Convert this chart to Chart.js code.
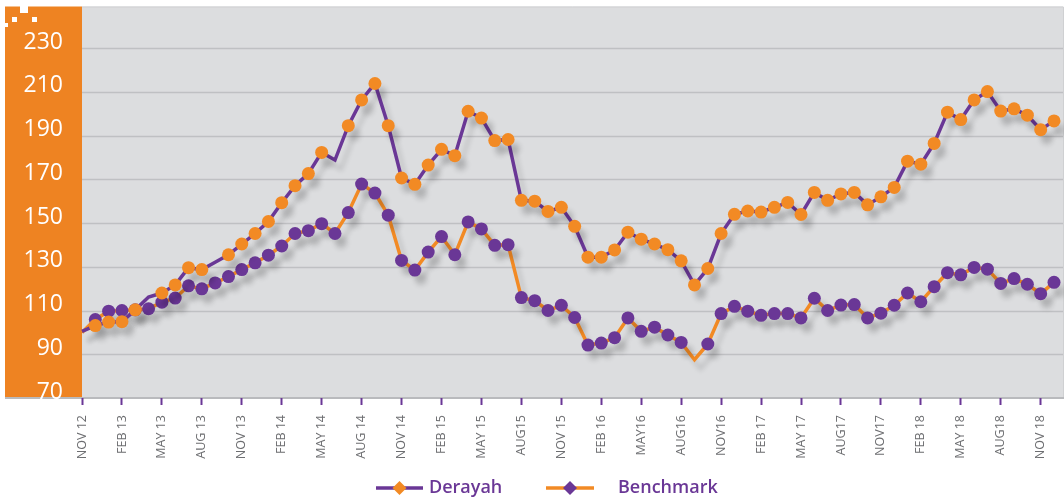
<!DOCTYPE html>
<html>
<head>
<meta charset="utf-8">
<script src="https://cdn.jsdelivr.net/npm/chart.js@4"></script>
<style>
  html, body { margin: 0; padding: 0; background: #fff; }
  #wrap { width: 1064px; height: 499px; }
</style>
</head>
<body>
<div id="wrap"><canvas id="perfChart" width="1064" height="499"></canvas></div>
<script>
// Monthly categories, Nov 2012 - Dec 2018
const months = [
    'NOV 12', 'DEC 12',
    'JAN 13', 'FEB 13', 'MAR 13', 'APR 13', 'MAY 13', 'JUN 13', 'JUL 13', 'AUG 13', 'SEP 13', 'OCT 13', 'NOV 13', 'DEC 13',
    'JAN 14', 'FEB 14', 'MAR 14', 'APR 14', 'MAY 14', 'JUN 14', 'JUL 14', 'AUG 14', 'SEP 14', 'OCT 14', 'NOV 14', 'DEC 14',
    'JAN 15', 'FEB 15', 'MAR 15', 'APR 15', 'MAY 15', 'JUN 15', 'JUL 15', 'AUG 15', 'SEP 15', 'OCT 15', 'NOV 15', 'DEC 15',
    'JAN 16', 'FEB 16', 'MAR 16', 'APR 16', 'MAY 16', 'JUN 16', 'JUL 16', 'AUG 16', 'SEP 16', 'OCT 16', 'NOV 16', 'DEC 16',
    'JAN 17', 'FEB 17', 'MAR 17', 'APR 17', 'MAY 17', 'JUN 17', 'JUL 17', 'AUG 17', 'SEP 17', 'OCT 17', 'NOV 17', 'DEC 17',
    'JAN 18', 'FEB 18', 'MAR 18', 'APR 18', 'MAY 18', 'JUN 18', 'JUL 18', 'AUG 18', 'SEP 18', 'OCT 18', 'NOV 18', 'DEC 18'
];

// Quarterly labels shown under the axis
const xTickLabels = [
    'NOV 12', 'FEB 13', 'MAY 13', 'AUG 13', 'NOV 13', 'FEB 14', 'MAY 14', 'AUG 14', 'NOV 14',
    'FEB 15', 'MAY 15', 'AUG15', 'NOV 15', 'FEB 16', 'MAY16', 'AUG16', 'NOV16', 'FEB 17',
    'MAY 17', 'AUG17', 'NOV17', 'FEB 18', 'MAY 18', 'AUG18', 'NOV 18'
];

const yTicks = [70, 90, 110, 130, 150, 170, 190, 210, 230];

const derayah = [
    100.5, 103.1, 104.7, 104.9, 110.3, 116.2, 118.0, 121.7, 129.6, 128.7,
    132.1, 135.5, 140.4, 145.2, 150.7, 159.3, 167.1, 172.6, 182.3, 178.8,
    194.5, 206.3, 213.8, 194.5, 170.6, 167.7, 176.5, 183.7, 180.8, 201.1,
    198.0, 187.7, 188.2, 160.4, 160.0, 155.3, 157.2, 148.5, 134.4, 134.4,
    137.7, 145.8, 142.6, 140.4, 137.8, 132.7, 121.7, 129.2, 145.2, 154.0,
    155.5, 155.0, 157.2, 159.4, 153.9, 164.0, 160.4, 163.3, 164.0, 158.3,
    162.0, 166.3, 178.3, 176.9, 186.4, 200.7, 197.3, 206.3, 210.1, 201.2,
    202.2, 199.3, 192.7, 196.7
];

const benchmark = [
    100.0, 105.9, 109.7, 110.0, 110.3, 110.8, 113.8, 115.7, 121.3, 119.9,
    122.6, 125.5, 128.7, 131.8, 135.3, 139.5, 145.2, 146.5, 149.7, 145.2,
    154.8, 167.8, 163.7, 153.6, 132.9, 128.5, 136.7, 143.8, 135.5, 150.5,
    147.3, 139.8, 140.1, 115.9, 114.5, 110.0, 112.4, 106.8, 94.2, 95.1,
    97.6, 106.6, 100.5, 102.4, 98.8, 95.4, 87.5, 94.7, 108.6, 111.9,
    109.7, 107.8, 108.6, 108.6, 106.6, 115.6, 110.0, 112.5, 112.7, 106.6,
    108.8, 112.4, 118.0, 114.0, 120.9, 127.3, 126.3, 129.7, 128.9, 122.4,
    124.6, 122.0, 117.7, 122.9
];

// months drawn without a marker in the original
const derayahNoMarker = [0, 5, 10, 19];
const benchmarkNoMarker = [0, 46];

const PURPLE = '#6a3796';
const ORANGE = '#f28a24';
const PANEL_ORANGE = '#ee8322';
const PLOT_GRAY = '#dcdddf';
const FONT = '"Open Sans", "Noto Sans", sans-serif';

// gray plot area, orange axis panel, grid lines
const chartBackground = {
    id: 'chartBackground',
    beforeDraw(chart) {
        const { ctx, chartArea: a, scales: { y } } = chart;
        const right = chart.width - 1;
        ctx.save();
        ctx.fillStyle = PLOT_GRAY;
        ctx.fillRect(a.left, a.top, right - a.left, a.bottom - a.top);
        ctx.fillStyle = PANEL_ORANGE;
        ctx.fillRect(5, a.top, a.left - 5, a.bottom - a.top);

        ctx.strokeStyle = '#bfc0c3';
        ctx.lineWidth = 1.5;
        yTicks.slice(1).forEach(v => {
            const py = Math.round(y.getPixelForValue(v)) + 0.5;
            ctx.beginPath();
            ctx.moveTo(a.left, py);
            ctx.lineTo(right, py);
            ctx.stroke();
        });
        // top edge + right edge
        ctx.strokeStyle = '#cfd0d2';
        ctx.lineWidth = 1;
        ctx.beginPath();
        ctx.moveTo(a.left, a.top + 0.5);
        ctx.lineTo(right + 0.5, a.top + 0.5);
        ctx.lineTo(right + 0.5, a.bottom);
        ctx.stroke();
        // bottom axis line
        ctx.strokeStyle = '#b9babd';
        ctx.lineWidth = 2;
        ctx.beginPath();
        ctx.moveTo(5, a.bottom);
        ctx.lineTo(right + 1, a.bottom);
        ctx.stroke();

        // little white squares in the panel corner
        ctx.fillStyle = '#ffffff';
        ctx.fillRect(20, 6, 8, 7);
        ctx.fillRect(12, 17, 5, 5);
        ctx.fillRect(32, 17, 5, 5);
        ctx.fillRect(5, 23, 3, 4);
        ctx.restore();
    }
};

// soft drop shadow under the series
const seriesShadow = {
    id: 'seriesShadow',
    beforeDatasetDraw(chart) {
        const ctx = chart.ctx;
        ctx.save();
        ctx.shadowColor = 'rgba(0, 0, 0, 0.13)';
        ctx.shadowBlur = 5;
        ctx.shadowOffsetX = 6;
        ctx.shadowOffsetY = 9;
    },
    afterDatasetDraw(chart) {
        chart.ctx.restore();
    }
};

// legend: line with a diamond, then the name
const lineLegend = {
    id: 'lineLegend',
    afterDraw(chart) {
        const ctx = chart.ctx;
        const items = [
            { label: 'Derayah', line: PURPLE, mark: ORANGE, x0: 376, x1: 423, tx: 429 },
            { label: 'Benchmark', line: ORANGE, mark: PURPLE, x0: 546, x1: 594, tx: 618 }
        ];
        const yc = 488;
        ctx.save();
        items.forEach(it => {
            ctx.strokeStyle = it.line;
            ctx.lineWidth = 3.5;
            ctx.beginPath();
            ctx.moveTo(it.x0, yc);
            ctx.lineTo(it.x1, yc);
            ctx.stroke();
            const cx = (it.x0 + it.x1) / 2;
            ctx.fillStyle = it.mark;
            ctx.beginPath();
            ctx.moveTo(cx, yc - 7);
            ctx.lineTo(cx + 7, yc);
            ctx.lineTo(cx, yc + 7);
            ctx.lineTo(cx - 7, yc);
            ctx.closePath();
            ctx.fill();
            ctx.fillStyle = PURPLE;
            ctx.font = '600 18px ' + FONT;
            ctx.textBaseline = 'middle';
            ctx.textAlign = 'left';
            ctx.fillText(it.label, it.tx, yc);
        });
        ctx.restore();
    }
};

const noScalePadding = scale => {
    scale.paddingTop = 0;
    scale.paddingBottom = 0;
    scale.paddingLeft = 0;
    scale.paddingRight = 0;
};

const initPerfChart = () => {
    const ctx = document.getElementById('perfChart');

    new Chart(ctx, {
        type: 'line',
        data: {
            labels: months,
            datasets: [
                {
                    label: 'Derayah',
                    data: derayah,
                    borderColor: PURPLE,
                    borderWidth: 3.5,
                    pointBackgroundColor: ORANGE,
                    pointBorderWidth: 0,
                    pointRadius: c => derayahNoMarker.includes(c.dataIndex) ? 0 : 6.5,
                    tension: 0,
                    clip: false
                },
                {
                    label: 'Benchmark',
                    data: benchmark,
                    borderColor: ORANGE,
                    borderWidth: 3.5,
                    pointBackgroundColor: PURPLE,
                    pointBorderWidth: 0,
                    pointRadius: c => benchmarkNoMarker.includes(c.dataIndex) ? 0 : 6.5,
                    tension: 0,
                    clip: false
                }
            ]
        },
        options: {
            responsive: false,
            animation: false,
            devicePixelRatio: 1,
            layout: { padding: { left: 5, right: 10, top: 5, bottom: 0 } },
            plugins: {
                legend: { display: false },
                tooltip: { enabled: false }
            },
            scales: {
                x: {
                    type: 'category',
                    offset: false,
                    border: { display: false },
                    grid: {
                        drawOnChartArea: false,
                        drawTicks: true,
                        tickLength: 7,
                        tickWidth: 2,
                        tickColor: c => c.index % 3 === 0 ? PURPLE : 'rgba(0,0,0,0)'
                    },
                    ticks: {
                        autoSkip: false,
                        minRotation: 90,
                        maxRotation: 90,
                        padding: 10,
                        color: '#6d6e71',
                        font: { family: FONT, size: 12.5 },
                        callback: (v, i) => i % 3 === 0 ? xTickLabels[i / 3] : ''
                    },
                    afterFit: scale => {
                        scale.height = 101;
                        noScalePadding(scale);
                    }
                },
                y: {
                    min: 70,
                    max: 249,
                    border: { display: false },
                    grid: { display: false, drawTicks: false },
                    afterBuildTicks: axis => {
                        axis.ticks = yTicks.map(v => ({ value: v }));
                    },
                    ticks: {
                        color: '#ffffff',
                        padding: 19,
                        labelOffset: -6,
                        font: { family: FONT, size: 23 }
                    },
                    afterFit: scale => {
                        scale.width = 77;
                        noScalePadding(scale);
                    }
                }
            }
        },
        plugins: [chartBackground, seriesShadow, lineLegend]
    });
};

initPerfChart();
</script>
</body>
</html>
